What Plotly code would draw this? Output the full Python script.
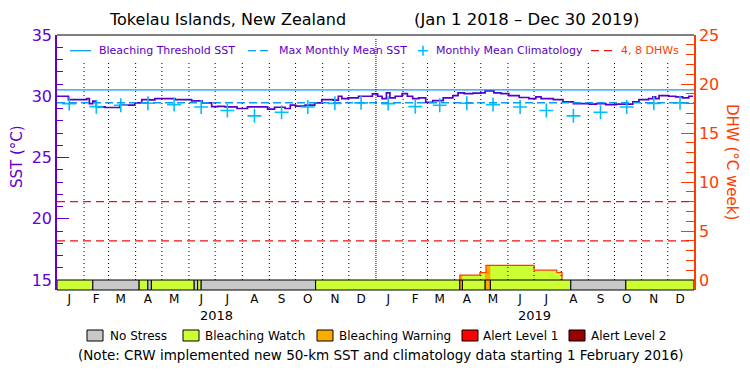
import plotly.graph_objects as go
import pandas as pd

# ---------------- data ----------------
title_left = "Tokelau Islands, New Zealand"
title_right = "(Jan 1 2018 \u2013 Dec 30 2019)"

sst_dates = [
    "2018-01-01", "2018-01-14", "2018-02-04", "2018-02-07", "2018-02-11", "2018-02-15",
    "2018-02-25", "2018-03-14", "2018-03-31", "2018-04-08", "2018-04-17", "2018-04-23",
    "2018-05-16", "2018-06-04", "2018-06-16", "2018-06-27", "2018-07-04", "2018-07-12",
    "2018-07-26", "2018-08-07", "2018-08-30", "2018-09-07", "2018-09-19", "2018-09-25",
    "2018-10-01", "2018-10-12", "2018-10-23", "2018-10-31", "2018-11-13", "2018-11-19",
    "2018-11-23", "2018-11-30", "2018-12-12", "2018-12-28", "2019-01-03", "2019-01-08",
    "2019-01-13", "2019-01-17", "2019-01-23", "2019-01-31", "2019-02-06", "2019-02-12",
    "2019-02-19", "2019-02-27", "2019-03-07", "2019-03-19", "2019-03-30", "2019-04-05",
    "2019-04-12", "2019-04-22", "2019-05-01", "2019-05-06", "2019-05-16", "2019-05-24",
    "2019-06-02", "2019-06-14", "2019-06-25", "2019-07-03", "2019-07-09", "2019-07-23",
    "2019-08-03", "2019-08-15", "2019-09-02", "2019-09-10", "2019-09-21", "2019-10-03",
    "2019-10-22", "2019-10-29", "2019-11-09", "2019-11-14", "2019-11-17", "2019-11-21",
    "2019-12-02", "2019-12-10", "2019-12-18", "2019-12-25", "2019-12-30",
]
sst_values = [
    30.00, 29.73, 29.80, 29.40, 29.60, 29.13,
    29.08, 29.27, 29.46, 29.73, 29.70, 29.81,
    29.73, 29.62, 29.46, 29.15, 29.18, 29.13,
    29.00, 29.13, 28.95, 29.10, 29.00, 29.27,
    29.20, 29.27, 29.46, 29.73, 29.68, 30.00,
    29.80, 29.87, 30.00, 30.20, 30.00, 29.80,
    30.27, 29.87, 30.00, 30.22, 30.00, 29.80,
    29.87, 29.50, 29.65, 29.87, 30.05, 30.28,
    30.22, 30.25, 30.28, 30.44, 30.27, 30.22,
    30.05, 29.90, 29.80, 29.95, 29.81, 29.73,
    29.54, 29.40, 29.35, 29.40, 29.32, 29.35,
    29.54, 29.73, 29.80, 29.95, 29.80, 30.05,
    30.00, 29.95, 29.87, 30.00, 30.00,
]

clim_dates = [
    "2018-01-15", "2018-02-15", "2018-03-15", "2018-04-15", "2018-05-15", "2018-06-15",
    "2018-07-15", "2018-08-15", "2018-09-15", "2018-10-15", "2018-11-15", "2018-12-15",
    "2019-01-15", "2019-02-15", "2019-03-15", "2019-04-15", "2019-05-15", "2019-06-15",
    "2019-07-15", "2019-08-15", "2019-09-15", "2019-10-15", "2019-11-15", "2019-12-15",
]
clim_values = [
    29.40, 29.15, 29.27, 29.43, 29.32, 29.12, 28.84, 28.40, 28.70, 29.12, 29.42, 29.46,
    29.40, 29.15, 29.27, 29.43, 29.32, 29.12, 28.84, 28.40, 28.70, 29.12, 29.42, 29.46,
]

bleaching_threshold = 30.52
max_monthly_mean = 29.47
dhw_levels = [4, 8]

dhw_dates = ["2019-04-07", "2019-04-07", "2019-04-30", "2019-05-07", "2019-07-01",
             "2019-07-27", "2019-08-02"]
dhw_values = [0.0, 0.5, 0.75, 1.5, 1.0, 0.75, 0.0]

stress_starts = ["2018-01-01", "2018-02-11", "2018-04-05", "2018-04-15", "2018-04-19",
                 "2018-06-07", "2018-06-11", "2018-06-15", "2018-10-24", "2019-04-07",
                 "2019-04-10", "2019-05-06", "2019-05-12", "2019-08-12", "2019-10-14"]
stress_ends = ["2018-02-11", "2018-04-05", "2018-04-15", "2018-04-19", "2018-06-07",
               "2018-06-11", "2018-06-15", "2018-10-24", "2019-04-07", "2019-04-10",
               "2019-05-06", "2019-05-12", "2019-08-12", "2019-10-14", "2019-12-31"]
stress_levels = [1, 0, 1, 0, 1, 0, 1, 0, 1, 2, 1, 2, 1, 0, 1]

stress_names = ["No Stress", "Bleaching Watch", "Bleaching Warning", "Alert Level 1", "Alert Level 2"]
stress_colors = ["#c8c8c8", "#ccff33", "#ffaa00", "#ff0000", "#990000"]

month_labels = ["J", "F", "M", "A", "M", "J", "J", "A", "S", "O", "N", "D"] * 2
month_label_dates = clim_dates
month_starts = [d.strftime("%Y-%m-%d") for d in pd.date_range("2018-02-01", "2019-12-01", freq="MS")]
year_labels = ["2018", "2019"]
year_label_dates = ["2018-07-02", "2019-07-02"]

note_text = "(Note: CRW implemented new 50-km SST and climatology data starting 1 February 2016)"

# ---------------- styling ----------------
FONT = "DejaVu Sans"
PURPLE = "#5a00c8"
AXPURPLE = "#6400d2"
ORANGE = "#ff3c00"
BLUE = "#0a9cf5"
CYAN = "#00bfff"
RED = "#ee1111"

L, R, T, B = 57, 694, 35, 290
PW, PH = R - L, B - T
BAR_TOP = 280


def fx(px):
    return (px - L) / PW


def fy(py):
    return (B - py) / PH


y_lo = 15 - (B - BAR_TOP) * 20 / (BAR_TOP - T)
y2_lo = 0 - (B - BAR_TOP) * 25 / (BAR_TOP - T)

fig = go.Figure()

# DHW area (watch colour) on secondary axis
fig.add_trace(go.Scatter(x=dhw_dates, y=dhw_values, yaxis="y2", mode="lines",
                         line=dict(shape="hv", width=0, color=stress_colors[1]),
                         fill="tozeroy", fillcolor=stress_colors[1], hoverinfo="skip",
                         showlegend=False))


def dhw_at(t):
    v = 0.0
    for d, val in zip(dhw_dates, dhw_values):
        if pd.Timestamp(d) <= t:
            v = val
    return v


# DHW area coloured by stress level where level > watch
for s, e, lvl in zip(stress_starts, stress_ends, stress_levels):
    if lvl < 2:
        continue
    ts, te = pd.Timestamp(s), pd.Timestamp(e)
    xs = [ts]
    ys = [dhw_at(ts)]
    for d in dhw_dates:
        td = pd.Timestamp(d)
        if ts < td < te:
            xs.append(td)
            ys.append(dhw_at(td))
    xs.append(te)
    ys.append(ys[-1])
    fig.add_trace(go.Scatter(x=xs, y=ys, yaxis="y2", mode="lines",
                             line=dict(shape="hv", width=0, color=stress_colors[lvl]),
                             fill="tozeroy", fillcolor=stress_colors[lvl], hoverinfo="skip",
                             showlegend=False))

# DHW outline
fig.add_trace(go.Scatter(x=dhw_dates, y=dhw_values, yaxis="y2", mode="lines",
                         line=dict(shape="hv", width=1.2, color=ORANGE), showlegend=False))

# SST
fig.add_trace(go.Scatter(x=sst_dates, y=sst_values, mode="lines",
                         line=dict(shape="hv", width=1.7, color=PURPLE), showlegend=False))

# Climatology
fig.add_trace(go.Scatter(x=clim_dates, y=clim_values, mode="markers",
                         marker=dict(symbol="cross-thin", size=10,
                                     line=dict(width=1.6, color=CYAN)),
                         showlegend=False))

shapes = []
# reference lines
shapes.append(dict(type="line", xref="paper", x0=0, x1=1, yref="y",
                   y0=bleaching_threshold, y1=bleaching_threshold,
                   line=dict(color=BLUE, width=1.3)))
shapes.append(dict(type="line", xref="paper", x0=0, x1=1, yref="y",
                   y0=max_monthly_mean, y1=max_monthly_mean,
                   line=dict(color=BLUE, width=1.3, dash="8px,4px")))
for lv in dhw_levels:
    shapes.append(dict(type="line", xref="paper", x0=0, x1=1, yref="y2",
                       y0=lv, y1=lv, line=dict(color=RED, width=1.3, dash="8px,5px")))

# month separators
for d in month_starts:
    if d == "2019-01-01":
        shapes.append(dict(type="line", xref="x", x0=d, x1=d, yref="paper",
                           y0=fy(BAR_TOP), y1=fy(38),
                           line=dict(color="black", width=1, dash="1px,1px")))
    else:
        shapes.append(dict(type="line", xref="x", x0=d, x1=d, yref="paper",
                           y0=fy(BAR_TOP), y1=fy(63),
                           line=dict(color="black", width=1, dash="1px,3px")))

# stress bar
for s, e, lvl in zip(stress_starts, stress_ends, stress_levels):
    shapes.append(dict(type="rect", xref="x", x0=s, x1=e, yref="paper",
                       y0=0, y1=fy(BAR_TOP), fillcolor=stress_colors[lvl],
                       line=dict(color="black", width=1), layer="above"))

# top border
shapes.append(dict(type="line", xref="paper", x0=0, x1=1, yref="paper", y0=1, y1=1,
                   line=dict(color="black", width=1.2)))

annotations = []

# top legend
LEG_Y = 50.7
shapes.append(dict(type="line", xref="paper", yref="paper", x0=fx(70), x1=fx(91),
                   y0=fy(LEG_Y), y1=fy(LEG_Y), line=dict(color=BLUE, width=1.3)))
shapes.append(dict(type="line", xref="paper", yref="paper", x0=fx(248), x1=fx(272),
                   y0=fy(LEG_Y), y1=fy(LEG_Y), line=dict(color=BLUE, width=1.3, dash="8px,4px")))
shapes.append(dict(type="line", xref="paper", yref="paper", x0=fx(418), x1=fx(428),
                   y0=fy(LEG_Y), y1=fy(LEG_Y), line=dict(color=CYAN, width=1.6)))
shapes.append(dict(type="line", xref="paper", yref="paper", x0=fx(423), x1=fx(423),
                   y0=fy(LEG_Y - 5), y1=fy(LEG_Y + 5), line=dict(color=CYAN, width=1.6)))
shapes.append(dict(type="line", xref="paper", yref="paper", x0=fx(591), x1=fx(616),
                   y0=fy(LEG_Y), y1=fy(LEG_Y), line=dict(color=RED, width=1.3, dash="8px,5px")))
for txt, px, col in [("Bleaching Threshold SST", 97, PURPLE),
                     ("Max Monthly Mean SST", 277, PURPLE),
                     ("Monthly Mean Climatology", 434, PURPLE),
                     ("4, 8 DHWs", 619, ORANGE)]:
    annotations.append(dict(text=txt, xref="paper", yref="paper", x=fx(px), y=fy(LEG_Y),
                            xanchor="left", yanchor="middle", showarrow=False,
                            font=dict(family=FONT, size=11, color=col)))

# title
annotations.append(dict(text=title_left, xref="paper", yref="paper", x=fx(227), y=fy(20),
                        xanchor="center", yanchor="middle", showarrow=False,
                        font=dict(family=FONT, size=16, color="black")))
annotations.append(dict(text=title_right, xref="paper", yref="paper", x=fx(526), y=fy(20),
                        xanchor="center", yanchor="middle", showarrow=False,
                        font=dict(family=FONT, size=16.5, color="black")))

# axis titles
annotations.append(dict(text="SST (\u00b0C)", xref="paper", yref="paper", x=fx(17), y=fy(157),
                        xanchor="center", yanchor="middle", textangle=-90, showarrow=False,
                        font=dict(family=FONT, size=15, color=AXPURPLE)))
annotations.append(dict(text="DHW (\u00b0C week)", xref="paper", yref="paper", x=fx(732), y=fy(162),
                        xanchor="center", yanchor="middle", textangle=90, showarrow=False,
                        font=dict(family=FONT, size=15, color=ORANGE)))

# year labels
for txt, d in zip(year_labels, year_label_dates):
    annotations.append(dict(text=txt, xref="x", yref="paper", x=d, y=fy(315),
                            xanchor="center", yanchor="middle", showarrow=False,
                            font=dict(family=FONT, size=13, color="black")))

# bottom legend
LEG2_Y = 335.5
box_left = [87, 183, 317, 462, 569]
text_left = [108, 203, 337, 481, 589]
for name, col, bx, tx in zip(stress_names, stress_colors, box_left, text_left):
    shapes.append(dict(type="rect", xref="paper", yref="paper", x0=fx(bx), x1=fx(bx + 16),
                       y0=fy(LEG2_Y + 5.5), y1=fy(LEG2_Y - 5.5), fillcolor=col,
                       line=dict(color="black", width=1)))
    annotations.append(dict(text=name, xref="paper", yref="paper", x=fx(tx), y=fy(LEG2_Y),
                            xanchor="left", yanchor="middle", showarrow=False,
                            font=dict(family=FONT, size=12, color="black")))

annotations.append(dict(text=note_text, xref="paper", yref="paper", x=fx(380.5), y=fy(355),
                        xanchor="center", yanchor="middle", showarrow=False,
                        font=dict(family=FONT, size=13.5, color="black")))

fig.update_layout(
    width=750, height=375,
    margin=dict(l=L, r=750 - R, t=T, b=375 - B, pad=0),
    paper_bgcolor="white", plot_bgcolor="white",
    showlegend=False,
    font=dict(family=FONT),
    xaxis=dict(type="date", range=["2018-01-01", "2019-12-31"], showgrid=False, zeroline=False,
               showline=False, ticks="", tickmode="array", tickvals=month_label_dates,
               ticktext=month_labels, tickfont=dict(family=FONT, size=12, color="black")),
    yaxis=dict(range=[y_lo, 35], showgrid=False, zeroline=False, showline=True,
               linecolor=AXPURPLE, linewidth=1.5, mirror=False,
               tickmode="array", tickvals=[15, 20, 25, 30, 35],
               ticks="inside", ticklen=12, tickwidth=1, tickcolor=AXPURPLE,
               tickfont=dict(family=FONT, size=16, color=AXPURPLE),
               minor=dict(ticks="inside", ticklen=6, tickwidth=1, tickcolor=AXPURPLE,
                          tickvals=[v for v in range(16, 35) if v % 5 != 0])),
    yaxis2=dict(range=[y2_lo, 25], overlaying="y", side="right", showgrid=False, zeroline=False,
                showline=True, linecolor=ORANGE, linewidth=1.5,
                tickmode="array", tickvals=[0, 5, 10, 15, 20, 25],
                ticks="inside", ticklen=13, tickwidth=1, tickcolor=ORANGE,
                tickfont=dict(family=FONT, size=16, color=ORANGE),
                minor=dict(ticks="inside", ticklen=8, tickwidth=1, tickcolor=ORANGE,
                           tickvals=[v for v in range(1, 25) if v % 5 != 0])),
    shapes=shapes,
    annotations=annotations,
)

fig.write_html("out.html", config={"displayModeBar": False},
               post_script="document.body.style.margin='0px';")
